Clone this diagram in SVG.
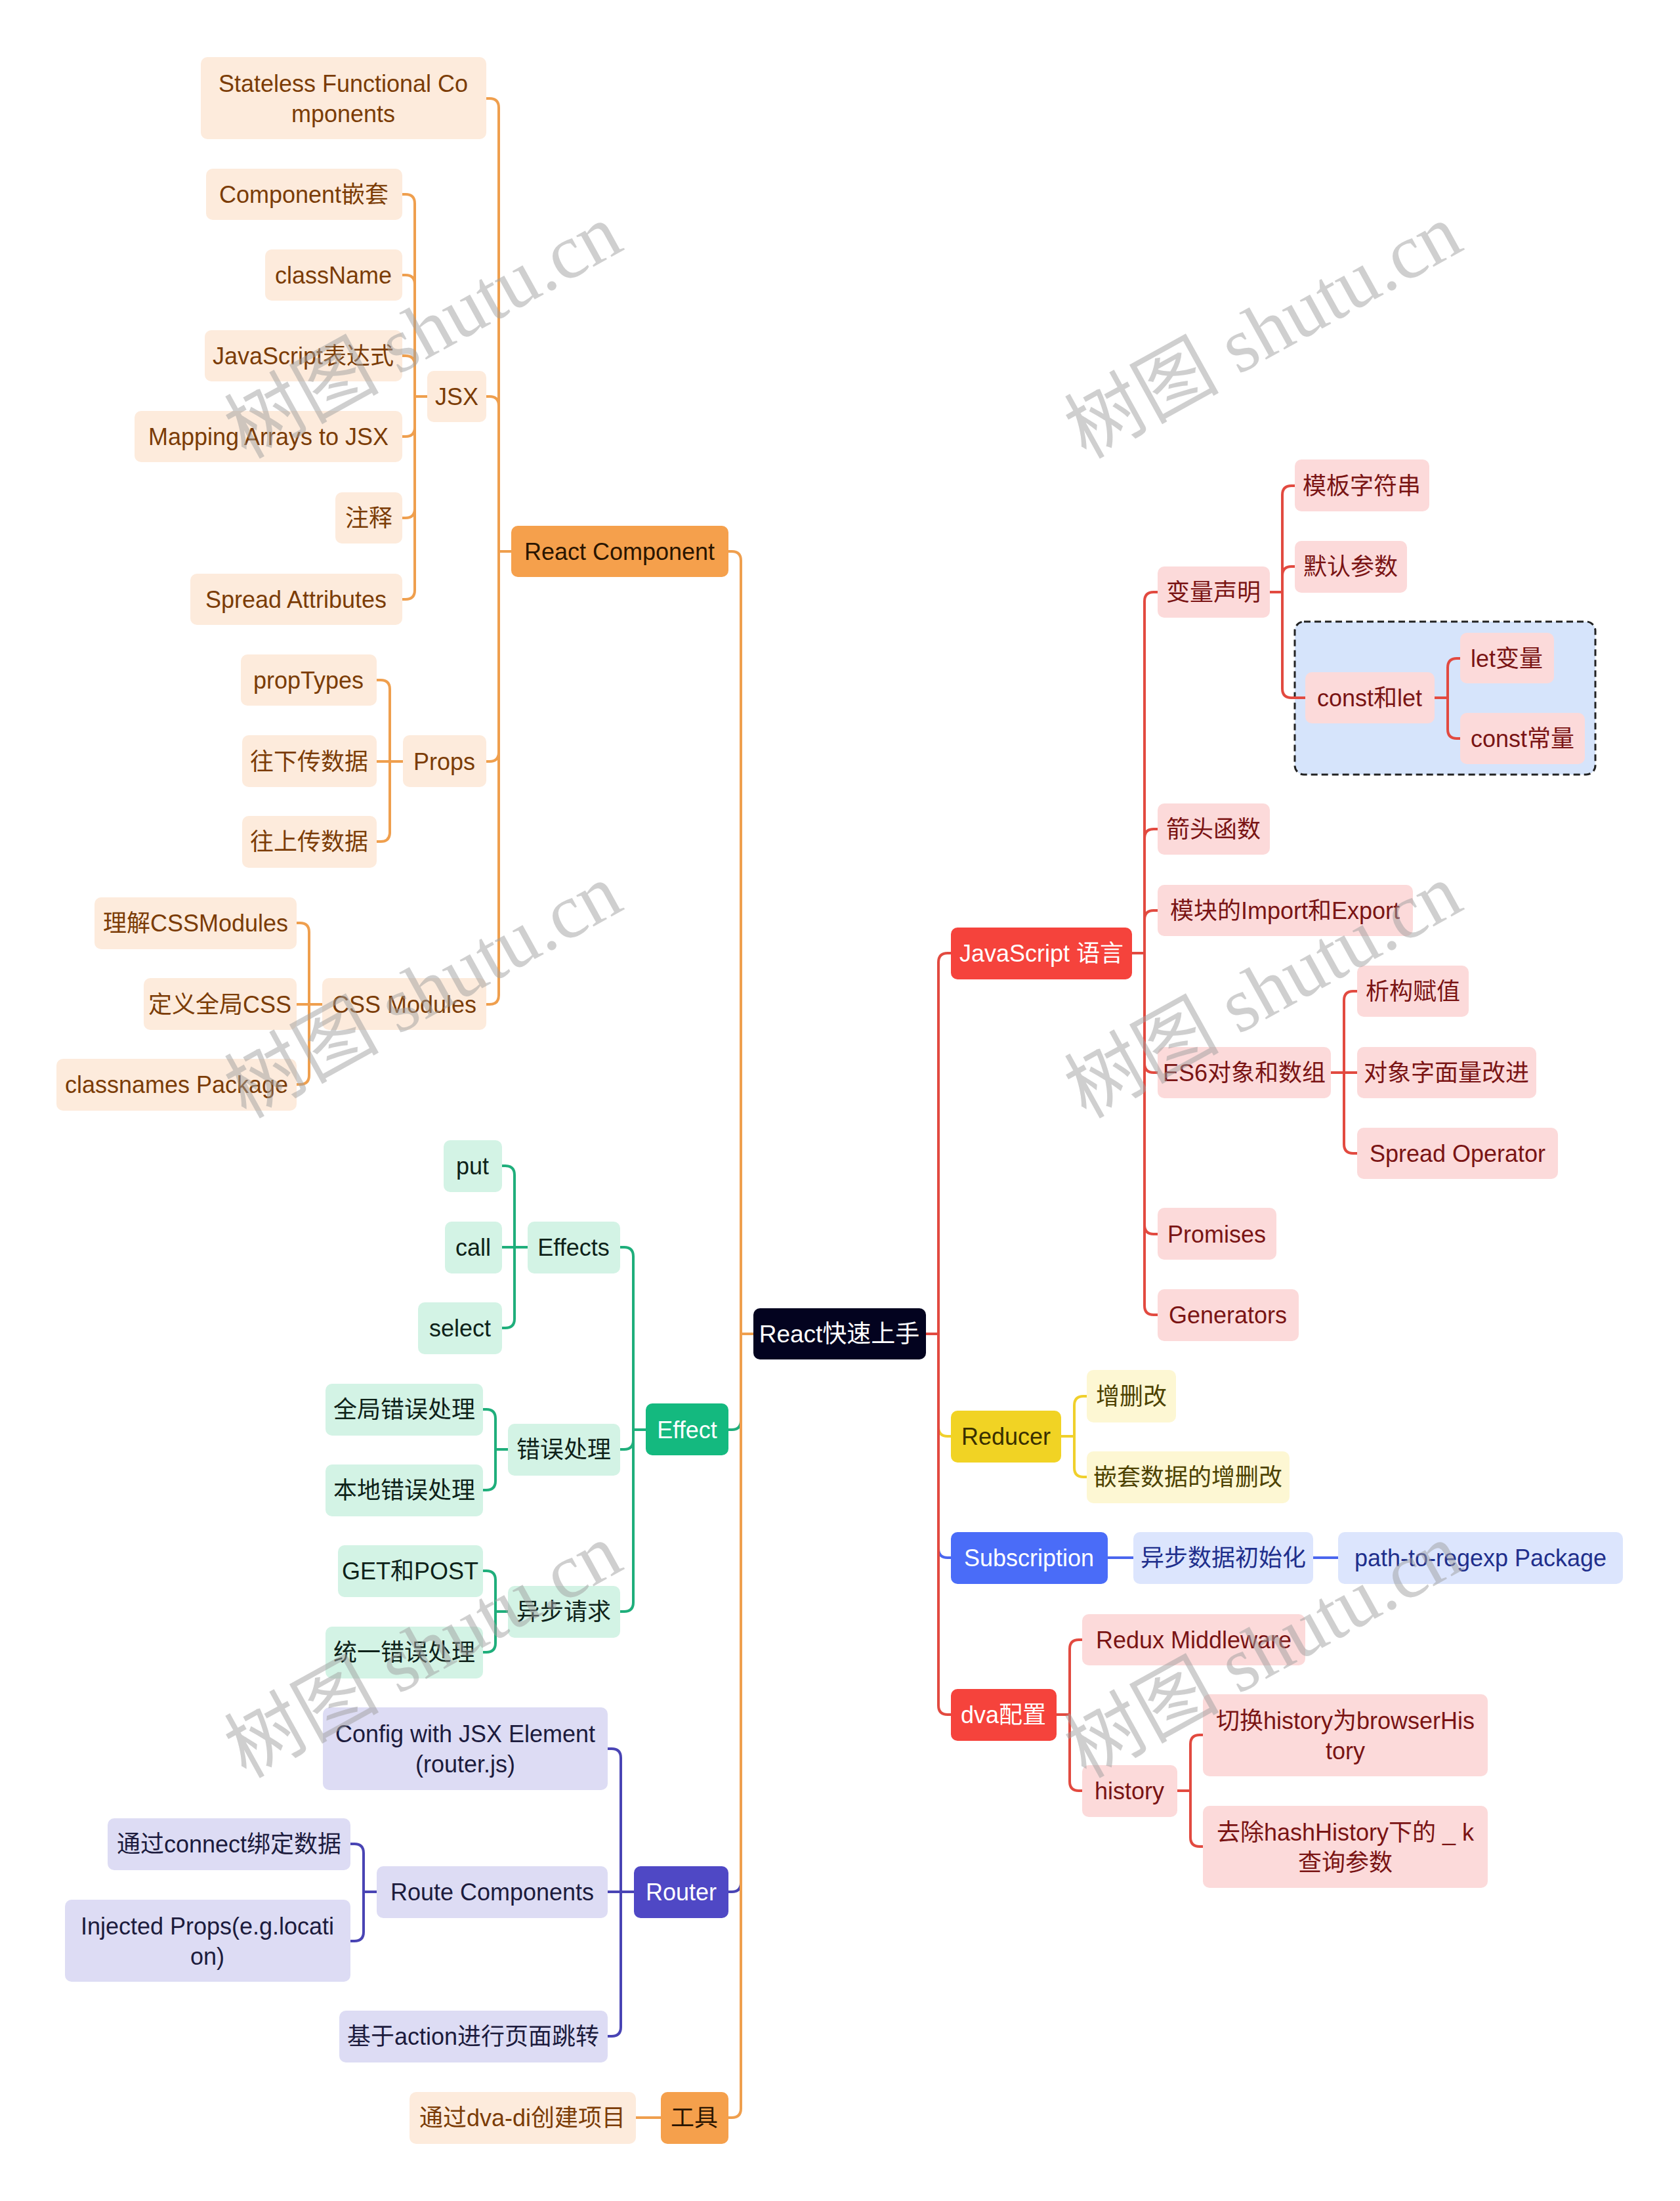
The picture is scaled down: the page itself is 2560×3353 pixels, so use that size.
<svg xmlns="http://www.w3.org/2000/svg" width="2560" height="3353" viewBox="0 0 2560 3353">
<style>
text{font-family:"Liberation Sans","Noto Sans CJK SC",sans-serif;font-size:36px;text-anchor:middle;dominant-baseline:central}
rect{rx:10px;ry:10px}
.oc rect{fill:#fdebdc}.oc text{fill:#7b3c06}
.om rect{fill:#f5a04c}.om text{fill:#2a1500}
.gc rect{fill:#d3f3e5}.gc text{fill:#0e2219}
.gm rect{fill:#14b97f}.gm text{fill:#fff}
.pc rect{fill:#dddcf4}.pc text{fill:#1c1b3d}
.pm rect{fill:#4f48c5}.pm text{fill:#fff}
.rc rect{fill:#fcdada}.rc text{fill:#7a1414}
.rm rect{fill:#f5433c}.rm text{fill:#fff}
.yc rect{fill:#fdf7d3}.yc text{fill:#4d4200}
.ym rect{fill:#f1d324}.ym text{fill:#3a3000}
.bc rect{fill:#dce5fd}.bc text{fill:#1f2f8c}
.bm rect{fill:#4a6cf8}.bm text{fill:#fff}
.root rect{fill:#03031f}.root text{fill:#fff;font-size:37px}
#connectors path{fill:none;stroke-width:4;stroke-linejoin:round}
.lo{stroke:#ef9f4e}.lg{stroke:#1fae7b}.lp{stroke:#4944b4}.lr{stroke:#e24a40}.ly{stroke:#f0d02c}.lb{stroke:#4a66ee}
.wm text{font-family:"Liberation Serif","Noto Sans CJK SC",serif;font-size:118px;fill:#a0a0a0;opacity:0.5}
</style>
<rect x="0" y="0" width="2560" height="3353" fill="#ffffff" style="rx:0;ry:0"/>

<g id="const-let-frame">
<rect x="1973" y="947" width="458" height="233" fill="#d6e4fb" stroke="#222" stroke-width="3" stroke-dasharray="10 6" style="rx:14px;ry:14px"/>
</g>

<g id="connectors">
<path class="lg" d="M1148,2032 H1129 V2164 Q1129,2178 1115,2178 H1110"/>
<path class="lg" d="M984,2178 H965 V1914 Q965,1900 951,1900 H945"/>
<path class="lg" d="M984,2178 H965 V2194 Q965,2208 951,2208 H945"/>
<path class="lg" d="M984,2178 H965 V2441 Q965,2455 951,2455 H945"/>
<path class="lg" d="M804,1900 H784 V1790 Q784,1776 770,1776 H765"/>
<path class="lg" d="M804,1900 H765"/>
<path class="lg" d="M804,1900 H784 V2009 Q784,2023 770,2023 H765"/>
<path class="lg" d="M774,2208 H755 V2161 Q755,2147 741,2147 H736"/>
<path class="lg" d="M774,2208 H755 V2256 Q755,2270 741,2270 H736"/>
<path class="lg" d="M774,2455 H755 V2407 Q755,2393 741,2393 H736"/>
<path class="lg" d="M774,2455 H755 V2503 Q755,2517 741,2517 H736"/>

<path class="lp" d="M1148,2032 H1129 V2868 Q1129,2882 1115,2882 H1110"/>
<path class="lp" d="M966,2882 H946 V2678 Q946,2664 932,2664 H926"/>
<path class="lp" d="M966,2882 H926"/>
<path class="lp" d="M966,2882 H946 V3088 Q946,3102 932,3102 H926"/>
<path class="lp" d="M574,2882 H554 V2823 Q554,2809 540,2809 H534"/>
<path class="lp" d="M574,2882 H554 V2943 Q554,2957 540,2957 H534"/>

<path class="ly" d="M1411,2032 H1430 V2174 Q1430,2188 1444,2188 H1449"/>
<path class="ly" d="M1617,2188 H1637 V2141 Q1637,2127 1651,2127 H1656"/>
<path class="ly" d="M1617,2188 H1637 V2236 Q1637,2250 1651,2250 H1656"/>

<path class="lb" d="M1411,2032 H1430 V2359 Q1430,2373 1444,2373 H1449"/>
<path class="lb" d="M1688,2373 H1727"/>
<path class="lb" d="M2001,2373 H2039"/>

<path class="lo" d="M1148,2032 H1129 V854 Q1129,840 1115,840 H1110"/>
<path class="lo" d="M1148,2032 H1129 V3212 Q1129,3226 1115,3226 H1110"/>
<path class="lo" d="M779,840 H760 V164 Q760,150 746,150 H741"/>
<path class="lo" d="M779,840 H760 V618 Q760,604 746,604 H741"/>
<path class="lo" d="M779,840 H760 V1146 Q760,1160 746,1160 H741"/>
<path class="lo" d="M779,840 H760 V1516 Q760,1530 746,1530 H741"/>
<path class="lo" d="M651,604 H632 V310 Q632,296 618,296 H613"/>
<path class="lo" d="M651,604 H632 V433 Q632,419 618,419 H613"/>
<path class="lo" d="M651,604 H632 V556 Q632,542 618,542 H613"/>
<path class="lo" d="M651,604 H632 V651 Q632,665 618,665 H613"/>
<path class="lo" d="M651,604 H632 V775 Q632,789 618,789 H613"/>
<path class="lo" d="M651,604 H632 V899 Q632,913 618,913 H613"/>
<path class="lo" d="M614,1160 H594 V1050 Q594,1036 580,1036 H574"/>
<path class="lo" d="M614,1160 H574"/>
<path class="lo" d="M614,1160 H594 V1268 Q594,1282 580,1282 H574"/>
<path class="lo" d="M491,1530 H471 V1420 Q471,1406 457,1406 H452"/>
<path class="lo" d="M491,1530 H452"/>
<path class="lo" d="M491,1530 H471 V1638 Q471,1652 457,1652 H452"/>
<path class="lo" d="M1007,3226 H969"/>

<path class="lr" d="M1411,2032 H1430 V1466 Q1430,1452 1444,1452 H1449"/>
<path class="lr" d="M1411,2032 H1430 V2598 Q1430,2612 1444,2612 H1449"/>
<path class="lr" d="M1725,1452 H1744 V916 Q1744,902 1758,902 H1764"/>
<path class="lr" d="M1725,1452 H1744 V1277 Q1744,1263 1758,1263 H1764"/>
<path class="lr" d="M1725,1452 H1744 V1401 Q1744,1387 1758,1387 H1764"/>
<path class="lr" d="M1725,1452 H1744 V1620 Q1744,1634 1758,1634 H1764"/>
<path class="lr" d="M1725,1452 H1744 V1866 Q1744,1880 1758,1880 H1764"/>
<path class="lr" d="M1725,1452 H1744 V1989 Q1744,2003 1758,2003 H1764"/>
<path class="lr" d="M1935,902 H1954 V754 Q1954,740 1968,740 H1973"/>
<path class="lr" d="M1935,902 H1954 V877 Q1954,863 1968,863 H1973"/>
<path class="lr" d="M1935,902 H1954 V1049 Q1954,1063 1968,1063 H1989"/>
<path class="lr" d="M2186,1063 H2206 V1017 Q2206,1003 2220,1003 H2225"/>
<path class="lr" d="M2186,1063 H2206 V1111 Q2206,1125 2220,1125 H2225"/>
<path class="lr" d="M2028,1634 H2048 V1524 Q2048,1510 2062,1510 H2068"/>
<path class="lr" d="M2028,1634 H2068"/>
<path class="lr" d="M2028,1634 H2048 V1743 Q2048,1757 2062,1757 H2068"/>
<path class="lr" d="M1610,2612 H1630 V2512 Q1630,2498 1644,2498 H1649"/>
<path class="lr" d="M1610,2612 H1630 V2714 Q1630,2728 1644,2728 H1649"/>
<path class="lr" d="M1794,2728 H1814 V2657 Q1814,2643 1828,2643 H1833"/>
<path class="lr" d="M1794,2728 H1814 V2799 Q1814,2813 1828,2813 H1833"/>
</g>

<g id="n-root" class="root"><rect x="1148" y="1993" width="263" height="78"/><text x="1279" y="2032">React快速上手</text></g>

<g id="n-react-component" class="om"><rect x="779" y="801" width="331" height="78"/><text x="944" y="840">React Component</text></g>
<g id="n-stateless" class="oc"><rect x="306" y="87" width="435" height="125"/><text x="523" y="127">Stateless Functional Co</text><text x="523" y="173">mponents</text></g>
<g id="n-jsx" class="oc"><rect x="651" y="565" width="90" height="78"/><text x="696" y="604">JSX</text></g>
<g id="n-component-nest" class="oc"><rect x="314" y="257" width="299" height="78"/><text x="463" y="296">Component嵌套</text></g>
<g id="n-classname" class="oc"><rect x="404" y="380" width="209" height="78"/><text x="508" y="419">className</text></g>
<g id="n-js-expr" class="oc"><rect x="312" y="503" width="301" height="78"/><text x="462" y="542">JavaScript表达式</text></g>
<g id="n-mapping" class="oc"><rect x="205" y="626" width="408" height="78"/><text x="409" y="665">Mapping Arrays to JSX</text></g>
<g id="n-comment" class="oc"><rect x="511" y="750" width="102" height="78"/><text x="562" y="789">注释</text></g>
<g id="n-spread-attr" class="oc"><rect x="290" y="874" width="323" height="78"/><text x="451" y="913">Spread Attributes</text></g>
<g id="n-props" class="oc"><rect x="614" y="1120" width="127" height="79"/><text x="677" y="1160">Props</text></g>
<g id="n-proptypes" class="oc"><rect x="367" y="997" width="207" height="78"/><text x="470" y="1036">propTypes</text></g>
<g id="n-down" class="oc"><rect x="369" y="1120" width="205" height="79"/><text x="471" y="1160">往下传数据</text></g>
<g id="n-up" class="oc"><rect x="369" y="1243" width="205" height="79"/><text x="471" y="1282">往上传数据</text></g>
<g id="n-css-modules" class="oc"><rect x="491" y="1490" width="250" height="79"/><text x="616" y="1530">CSS Modules</text></g>
<g id="n-understand-css" class="oc"><rect x="144" y="1367" width="308" height="79"/><text x="298" y="1406">理解CSSModules</text></g>
<g id="n-global-css" class="oc"><rect x="219" y="1490" width="233" height="79"/><text x="335" y="1530">定义全局CSS</text></g>
<g id="n-classnames" class="oc"><rect x="86" y="1613" width="366" height="79"/><text x="269" y="1652">classnames Package</text></g>

<g id="n-effect" class="gm"><rect x="984" y="2138" width="126" height="79"/><text x="1047" y="2178">Effect</text></g>
<g id="n-effects" class="gc"><rect x="804" y="1861" width="141" height="79"/><text x="874" y="1900">Effects</text></g>
<g id="n-put" class="gc"><rect x="676" y="1737" width="89" height="79"/><text x="720" y="1776">put</text></g>
<g id="n-call" class="gc"><rect x="678" y="1861" width="87" height="79"/><text x="721" y="1900">call</text></g>
<g id="n-select" class="gc"><rect x="637" y="1984" width="128" height="79"/><text x="701" y="2023">select</text></g>
<g id="n-error" class="gc"><rect x="774" y="2169" width="171" height="79"/><text x="859" y="2208">错误处理</text></g>
<g id="n-global-error" class="gc"><rect x="496" y="2108" width="240" height="79"/><text x="616" y="2147">全局错误处理</text></g>
<g id="n-local-error" class="gc"><rect x="496" y="2231" width="240" height="79"/><text x="616" y="2270">本地错误处理</text></g>
<g id="n-async" class="gc"><rect x="774" y="2416" width="171" height="79"/><text x="859" y="2455">异步请求</text></g>
<g id="n-get-post" class="gc"><rect x="515" y="2354" width="221" height="79"/><text x="625" y="2393">GET和POST</text></g>
<g id="n-unified-error" class="gc"><rect x="496" y="2478" width="240" height="79"/><text x="616" y="2517">统一错误处理</text></g>

<g id="n-router" class="pm"><rect x="966" y="2843" width="144" height="79"/><text x="1038" y="2882">Router</text></g>
<g id="n-config" class="pc"><rect x="492" y="2601" width="434" height="126"/><text x="709" y="2641">Config with JSX Element</text><text x="709" y="2687">(router.js)</text></g>
<g id="n-route-components" class="pc"><rect x="574" y="2843" width="352" height="79"/><text x="750" y="2882">Route Components</text></g>
<g id="n-connect" class="pc"><rect x="164" y="2770" width="370" height="79"/><text x="349" y="2809">通过connect绑定数据</text></g>
<g id="n-injected" class="pc"><rect x="99" y="2894" width="435" height="125"/><text x="316" y="2934">Injected Props(e.g.locati</text><text x="316" y="2980">on)</text></g>
<g id="n-action" class="pc"><rect x="517" y="3063" width="409" height="79"/><text x="721" y="3102">基于action进行页面跳转</text></g>

<g id="n-tools" class="om"><rect x="1007" y="3187" width="103" height="79"/><text x="1058" y="3226">工具</text></g>
<g id="n-dva-di" class="oc"><rect x="624" y="3187" width="345" height="79"/><text x="796" y="3226">通过dva-di创建项目</text></g>

<g id="n-js" class="rm"><rect x="1449" y="1413" width="276" height="79"/><text x="1587" y="1452">JavaScript 语言</text></g>
<g id="n-var" class="rc"><rect x="1764" y="863" width="171" height="78"/><text x="1849" y="902">变量声明</text></g>
<g id="n-template" class="rc"><rect x="1973" y="700" width="205" height="79"/><text x="2075" y="740">模板字符串</text></g>
<g id="n-default" class="rc"><rect x="1973" y="824" width="171" height="79"/><text x="2058" y="863">默认参数</text></g>
<g id="n-const-let" class="rc"><rect x="1989" y="1024" width="197" height="78"/><text x="2087" y="1063">const和let</text></g>
<g id="n-let" class="rc"><rect x="2225" y="964" width="143" height="77"/><text x="2296" y="1003">let变量</text></g>
<g id="n-const" class="rc"><rect x="2225" y="1086" width="190" height="78"/><text x="2320" y="1125">const常量</text></g>
<g id="n-arrow" class="rc"><rect x="1764" y="1224" width="171" height="78"/><text x="1849" y="1263">箭头函数</text></g>
<g id="n-module" class="rc"><rect x="1764" y="1348" width="389" height="78"/><text x="1958" y="1387">模块的Import和Export</text></g>
<g id="n-es6" class="rc"><rect x="1764" y="1595" width="264" height="78"/><text x="1896" y="1634">ES6对象和数组</text></g>
<g id="n-destruct" class="rc"><rect x="2068" y="1471" width="170" height="78"/><text x="2153" y="1510">析构赋值</text></g>
<g id="n-literal" class="rc"><rect x="2068" y="1595" width="273" height="78"/><text x="2204" y="1634">对象字面量改进</text></g>
<g id="n-spread-op" class="rc"><rect x="2068" y="1718" width="306" height="78"/><text x="2221" y="1757">Spread Operator</text></g>
<g id="n-promises" class="rc"><rect x="1764" y="1840" width="181" height="79"/><text x="1854" y="1880">Promises</text></g>
<g id="n-generators" class="rc"><rect x="1764" y="1964" width="215" height="79"/><text x="1871" y="2003">Generators</text></g>

<g id="n-reducer" class="ym"><rect x="1449" y="2149" width="168" height="79"/><text x="1533" y="2188">Reducer</text></g>
<g id="n-crud" class="yc"><rect x="1656" y="2087" width="136" height="80"/><text x="1724" y="2127">增删改</text></g>
<g id="n-nested-crud" class="yc"><rect x="1656" y="2211" width="309" height="79"/><text x="1810" y="2250">嵌套数据的增删改</text></g>

<g id="n-subscription" class="bm"><rect x="1449" y="2334" width="239" height="79"/><text x="1568" y="2373">Subscription</text></g>
<g id="n-async-init" class="bc"><rect x="1727" y="2334" width="274" height="79"/><text x="1864" y="2373">异步数据初始化</text></g>
<g id="n-path-regexp" class="bc"><rect x="2039" y="2334" width="434" height="79"/><text x="2256" y="2373">path-to-regexp Package</text></g>

<g id="n-dva" class="rm"><rect x="1449" y="2573" width="161" height="79"/><text x="1529" y="2612">dva配置</text></g>
<g id="n-redux" class="rc"><rect x="1649" y="2459" width="340" height="78"/><text x="1819" y="2498">Redux Middleware</text></g>
<g id="n-history" class="rc"><rect x="1649" y="2689" width="145" height="79"/><text x="1721" y="2728">history</text></g>
<g id="n-switch-history" class="rc"><rect x="1833" y="2581" width="434" height="125"/><text x="2050" y="2621">切换history为browserHis</text><text x="2050" y="2667">tory</text></g>
<g id="n-remove-k" class="rc"><rect x="1833" y="2751" width="434" height="125"/><text x="2050" y="2791">去除hashHistory下的 _ k</text><text x="2050" y="2837">查询参数</text></g>

<g class="wm">
<text transform="translate(645,505) rotate(-29)">树图 shutu.cn</text>
<text transform="translate(1925,505) rotate(-29)">树图 shutu.cn</text>
<text transform="translate(645,1510) rotate(-29)">树图 shutu.cn</text>
<text transform="translate(1925,1510) rotate(-29)">树图 shutu.cn</text>
<text transform="translate(645,2515) rotate(-29)">树图 shutu.cn</text>
<text transform="translate(1925,2515) rotate(-29)">树图 shutu.cn</text>
</g>
</svg>
